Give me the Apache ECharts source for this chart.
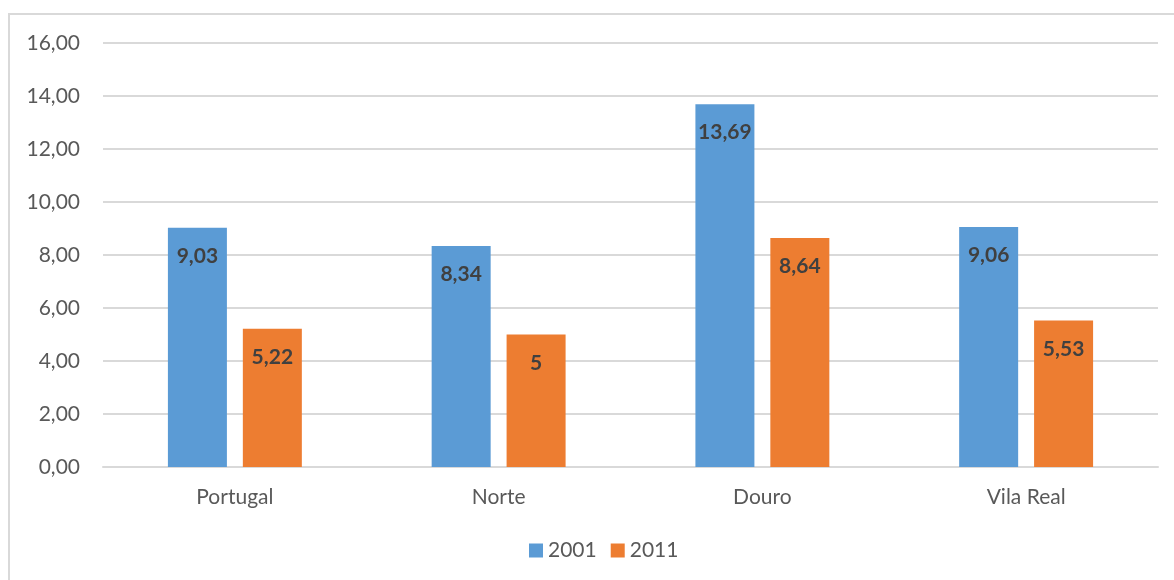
<!DOCTYPE html>
<html>
<head>
<meta charset="utf-8">
<script src="https://cdn.jsdelivr.net/npm/echarts@6/dist/echarts.min.js"></script>
<style>
  html, body { margin: 0; padding: 0; background: #fff; }
  #frame { position: absolute; left: 8px; top: 13px; width: 1180px; height: 580px; border: 2px solid #d9d9d9; box-sizing: border-box; }
  #chart { position: absolute; left: 0; top: 0; width: 1174px; height: 580px; }
</style>
</head>
<body>
<div id="frame"></div>
<div id="chart"></div>
<script>
  // 数据
  var categories = ["Portugal", "Norte", "Douro", "Vila Real"];
  var values2001 = [9.03, 8.34, 13.69, 9.06];
  var values2011 = [5.22, 5, 8.64, 5.53];
  var seriesNames = ["2001", "2011"];

  var myChart = echarts.init(document.getElementById("chart"));

  // 逗号作为小数点
  function comma(v) {
    return String(v).replace(".", ",");
  }

  var labelStyle = {
    show: true,
    position: "insideTop",
    distance: 18,
    color: "#404040",
    fontSize: 21,
    fontWeight: "bold",
    fontFamily: "Lato",
    formatter: function (p) {
      return comma(p.value);
    }
  };

  var options = {
    animation: false,
    textStyle: { fontFamily: "Lato" },
    grid: { left: 103, right: 16, top: 43, bottom: 113 },
    legend: {
      bottom: 14,
      left: 524,
      itemWidth: 14,
      itemHeight: 14,
      itemGap: 14,
      icon: "rect",
      textStyle: { fontSize: 21, color: "#595959", fontFamily: "Lato" },
      data: seriesNames
    },
    xAxis: {
      type: "category",
      data: categories,
      axisLine: { lineStyle: { color: "#d9d9d9", width: 2 } },
      axisTick: { show: false },
      axisLabel: { fontSize: 21, color: "#595959", margin: 20 }
    },
    yAxis: {
      type: "value",
      min: 0,
      max: 16,
      interval: 2,
      axisLine: { show: false },
      axisTick: { show: false },
      splitLine: { lineStyle: { color: "#d9d9d9", width: 2 } },
      axisLabel: {
        fontSize: 21,
        color: "#595959",
        margin: 23,
        formatter: function (v) {
          return v.toFixed(2).replace(".", ",");
        }
      }
    },
    series: [
      {
        name: seriesNames[0],
        type: "bar",
        data: values2001,
        barWidth: 59,
        barGap: "27%",
        itemStyle: { color: "#5b9bd5" },
        label: labelStyle
      },
      {
        name: seriesNames[1],
        type: "bar",
        data: values2011,
        barWidth: 59,
        barGap: "27%",
        itemStyle: { color: "#ed7d31" },
        label: labelStyle
      }
    ]
  };
  myChart.setOption(options);
</script>
</body>
</html>
